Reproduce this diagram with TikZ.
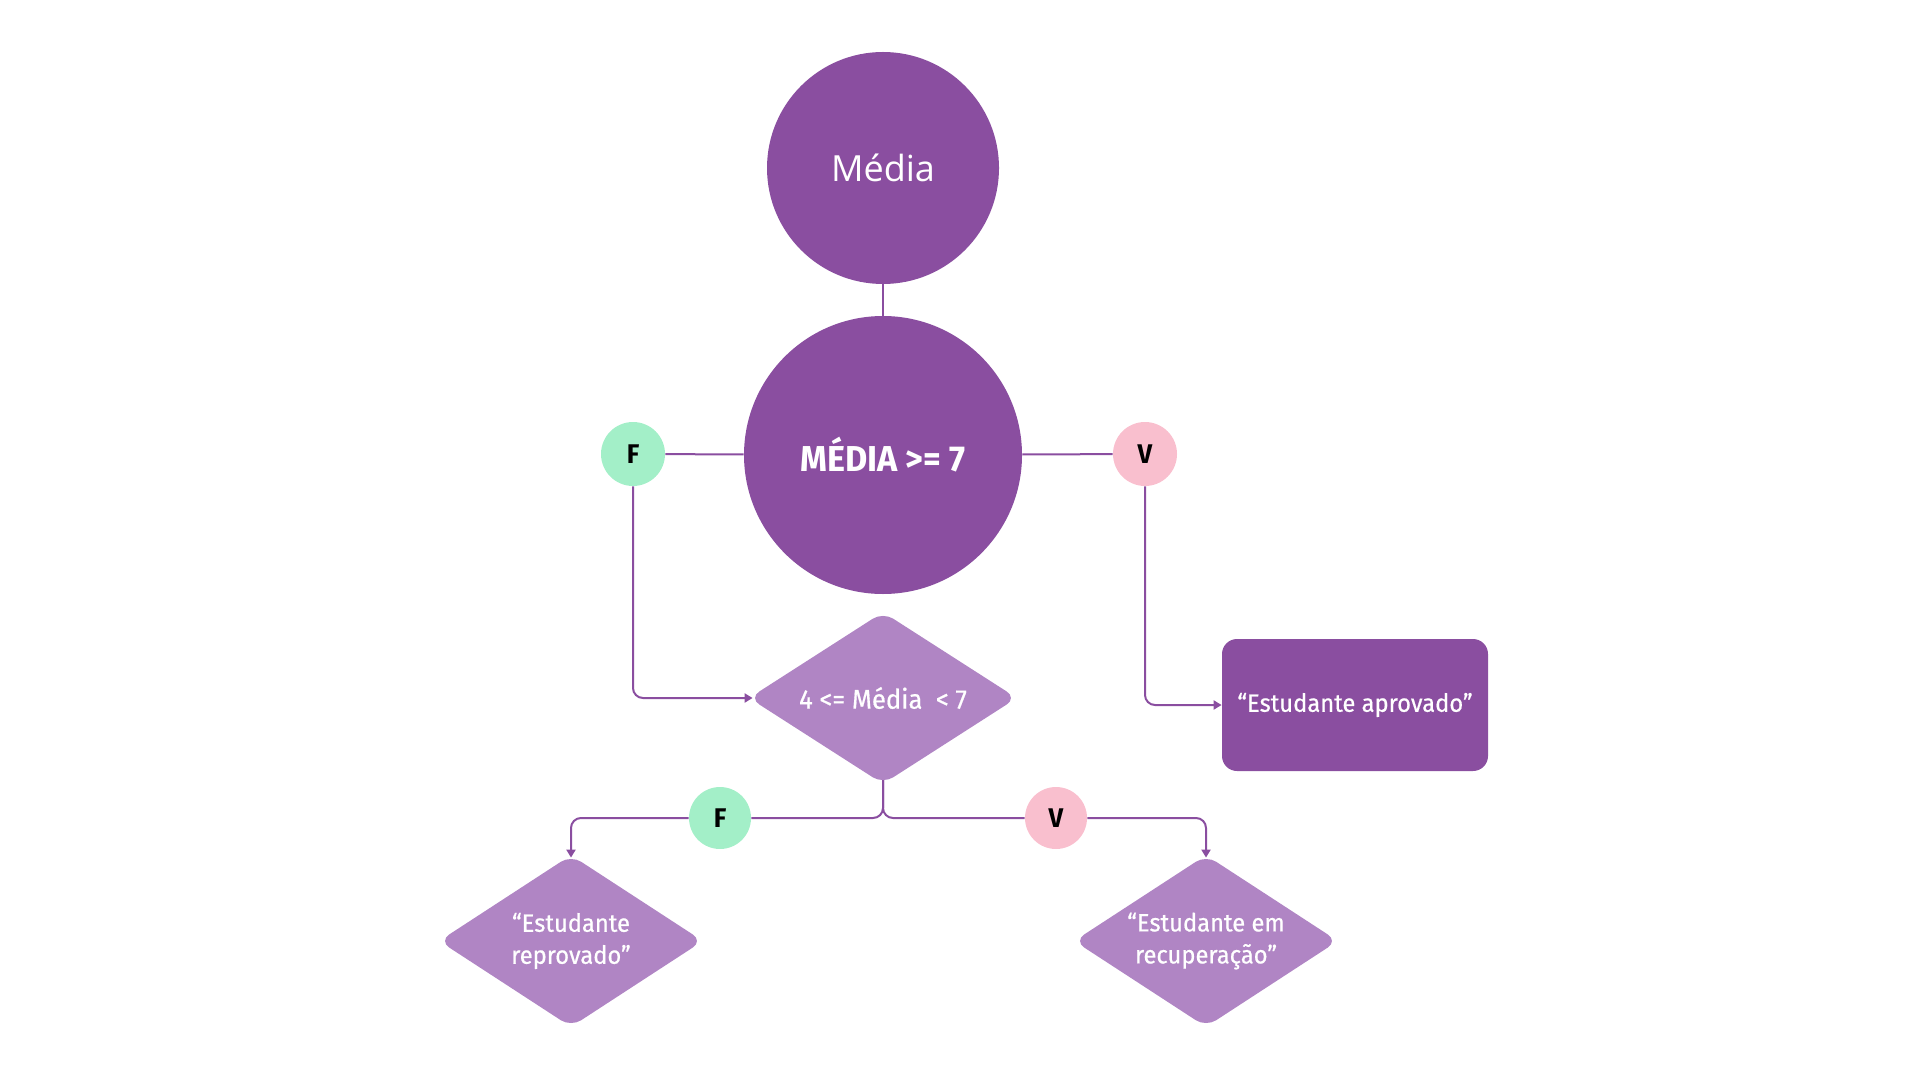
\documentclass[tikz,border=0pt]{standalone}
\usepackage{fontspec}
\setmainfont{Fira Sans}
\newfontfamily\condf[FakeStretch=0.95]{Fira Sans}
\newfontfamily\medf[FakeStretch=0.95,FakeBold=0.6]{Fira Sans}
\newfontfamily\opensans{Open Sans}
\usetikzlibrary{shapes.geometric,arrows.meta}
\definecolor{dpurple}{HTML}{8A4EA0}
\definecolor{lpurple}{HTML}{B085C4}
\definecolor{mint}{HTML}{A3EFC8}
\definecolor{rosy}{HTML}{F9BFCE}
\pgfdeclarelayer{bg}\pgfsetlayers{bg,main}
\begin{document}
\begin{tikzpicture}[x=0.5pt,y=-0.5pt,
  bigcirc/.style={circle, fill=dpurple, inner sep=0pt, text=white},
  tagF/.style={circle, fill=mint, minimum size=32pt, inner sep=0pt, text=black, font=\condf\bfseries\fontsize{13.5}{15}\selectfont},
  tagV/.style={tagF, fill=rosy},
  dia/.style={diamond, aspect=1.56, fill=lpurple, rounded corners=6pt, inner sep=0pt, text=white, align=center},
  rbox/.style={rectangle, fill=dpurple, rounded corners=7.5pt, text=white, inner sep=0pt},
  conn/.style={draw=dpurple, line width=1pt},
  arr/.style={conn, -{Triangle[length=4pt,width=4.5pt]}, rounded corners=5pt}]
\useasboundingbox (0,0) rectangle (1920,1080);
\node[bigcirc, minimum size=116pt, font=\opensans\fontsize{18}{20}\selectfont] (c1) at (883,168) {Média};
\node[bigcirc, minimum size=139pt, font=\condf\bfseries\fontsize{18}{20}\selectfont] (c2) at (883,455) {MÉDIA >= 7};
\node[tagF] (f1) at (633,454) {F};
\node[tagV] (v1) at (1145,454) {V};
\node[dia, minimum width=134pt, minimum height=86pt, font=\medf\fontsize{13.5}{15}\selectfont] (d1) at (883,698) {4 <= Média\enspace< 7};
\node[rbox, minimum width=133pt, minimum height=66pt, font=\medf\fontsize{12.5}{15}\selectfont] (r1) at (1355,705) {“Estudante aprovado”};
\node[tagF, minimum size=31pt] (f2) at (720,818) {F};
\node[tagV, minimum size=31pt] (v2) at (1056,818) {V};
\node[dia, minimum width=132pt, minimum height=86pt, font=\medf\fontsize{12.5}{16}\selectfont] (d2) at (571,941) {“Estudante\\reprovado”};
\node[dia, minimum width=132pt, minimum height=86pt, font=\medf\fontsize{12.5}{16}\selectfont] (d3) at (1206,941) {“Estudante em\\recuperação”};
\begin{pgfonlayer}{bg}
\draw[conn] (c1) -- (c2);
\draw[conn] (f1) -- (c2);
\draw[conn] (v1) -- (c2);
\draw[arr, shorten >=-2pt] (f1) |- (d1.west);
\draw[arr] (v1) |- (r1.west);
\draw[conn, rounded corners=5pt] (d1.center) |- (f2);
\draw[conn, rounded corners=5pt] (d1.center) |- (v2);
\draw[arr, shorten >=-1.5pt] (f2) -| (d2.north);
\draw[arr, shorten >=-1.5pt] (v2) -| (d3.north);
\end{pgfonlayer}
\end{tikzpicture}
\end{document}
